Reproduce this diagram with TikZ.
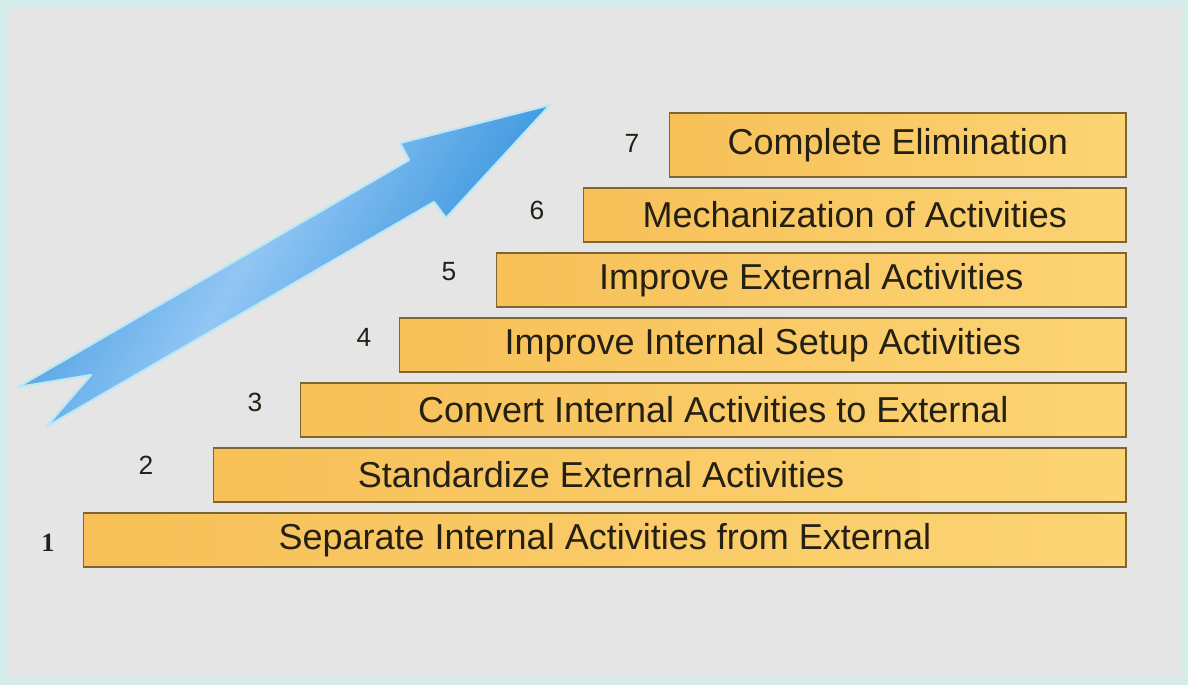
\documentclass[tikz,border=0pt]{standalone}
\usepackage{fontspec}
\setmainfont{Liberation Sans}
\newfontfamily\stepSerif{Liberation Serif}
\usetikzlibrary{positioning}
\definecolor{paperGray}{RGB}{229,229,229}
\definecolor{frameTeal}{RGB}{212,236,234}
\definecolor{barDeep}{RGB}{247,192,88}
\definecolor{barPale}{RGB}{252,212,116}
\definecolor{barEdge}{RGB}{126,102,50}
\definecolor{arrowDark}{RGB}{40,140,218}
\definecolor{arrowLight}{RGB}{146,198,244}
\definecolor{arrowGlow}{RGB}{188,232,246}
\definecolor{inkDark}{RGB}{36,32,20}
\pgfdeclarehorizontalshading{arrowShade}{100bp}{
    color(0bp)=(arrowDark); color(22bp)=(arrowDark!85!arrowLight);
    color(46bp)=(arrowLight); color(68bp)=(arrowDark!80!arrowLight);
    color(80bp)=(arrowDark); color(100bp)=(arrowDark)}
\tikzset{
    % Step bar style
    stepBar/.style={
        rectangle,
        anchor=east,
        minimum height=1.08cm,
        inner sep=0pt,
        left color=barDeep,
        right color=barPale,
        draw=barEdge,
        line width=0.9pt,
        text=inkDark,
        font=\fontsize{20.5pt}{24pt}\selectfont
    },
    % Step number style
    stepNum/.style={
        inner sep=0pt,
        text=inkDark,
        font=\fontsize{15pt}{17pt}\selectfont
    },
    stepText/.style={inner sep=0pt, text=inkDark, font=\fontsize{20.5pt}{24pt}\selectfont}
}

\begin{document}
\begin{tikzpicture}[x=0.02cm, y=-0.02cm]

    % --- Background ---
    \useasboundingbox (0,0) rectangle (1188,685);
    \fill[frameTeal] (0,0) rectangle (1188,685);
    \fill[paperGray] (7,7) rectangle (1181,678);

    % --- Rising arrow ---
    \shade[shading=arrowShade, shading angle=-30]
        (550,105) -- (446,218) -- (434,202) -- (46,427) -- (91,375)
        -- (18,387) -- (409,160) -- (400,143) -- cycle;
    \draw[arrowGlow, line width=1.2pt, line join=round]
        (550,105) -- (446,218) -- (434,202) -- (46,427) -- (91,375)
        -- (18,387) -- (409,160) -- (400,143) -- cycle;

    % --- Steps (bottom to top) ---
    \node (bar1) [stepBar, minimum width=20.86cm] at (1127,540) {Separate Internal Activities from External};
    \node (bar2) [stepBar, minimum width=18.26cm] at (1127,475) {};
    \node (text2) [stepText] at (601,475) {Standardize External Activities};
    \node (bar3) [stepBar, minimum width=16.52cm] at (1127,410) {Convert Internal Activities to External};
    \node (bar4) [stepBar, minimum width=14.54cm] at (1127,345) {Improve Internal Setup Activities};
    \node (bar5) [stepBar, minimum width=12.6cm] at (1127,280) {Improve External Activities};
    \node (bar6) [stepBar, minimum width=10.86cm] at (1127,215) {Mechanization of Activities};
    \node (bar7) [stepBar, minimum width=9.14cm, minimum height=1.28cm] at (1127,145) {Complete Elimination};

    % --- Step numbers ---
    \node (num1) [stepNum, font=\stepSerif\bfseries\fontsize{15pt}{17pt}\selectfont] at (48,543) {1};
    \node (num2) [stepNum] at (146,465) {2};
    \node (num3) [stepNum] at (255,402) {3};
    \node (num4) [stepNum] at (364,337) {4};
    \node (num5) [stepNum] at (449,272) {5};
    \node (num6) [stepNum] at (537,210) {6};
    \node (num7) [stepNum] at (632,143) {7};

\end{tikzpicture}
\end{document}
